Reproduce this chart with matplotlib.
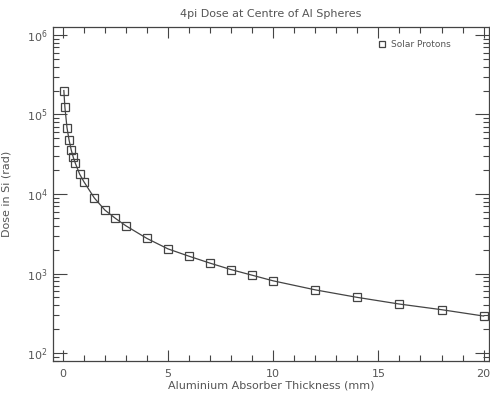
import numpy as np
import matplotlib
matplotlib.use("Agg")
import matplotlib.pyplot as plt
from matplotlib.ticker import LogLocator, MultipleLocator, FixedLocator

# data
thickness_mm = [0.05, 0.1, 0.2, 0.3, 0.4, 0.5, 0.6, 0.8, 1.0, 1.5, 2.0, 2.5, 3.0,
                4.0, 5.0, 6.0, 7.0, 8.0, 9.0, 10.0, 12.0, 14.0, 16.0, 18.0, 20.0]
dose_rad = [2.0e5, 1.23e5, 6.8e4, 4.73e4, 3.58e4, 2.88e4, 2.42e4, 1.78e4, 1.43e4,
            8.9e3, 6.28e3, 4.94e3, 3.98e3, 2.76e3, 2.04e3, 1.65e3, 1.35e3, 1.12e3,
            952, 809, 623, 501, 413, 351, 292]
x_ticks = [0, 5, 10, 15, 20]

txt = '#555555'
ink = '#444444'

fig = plt.figure(figsize=(4.9, 3.94), dpi=100)
ax = fig.add_axes([52.7 / 490, 1 - 361 / 394, (489.3 - 52.7) / 490, (361 - 27) / 394])

ax.plot(thickness_mm, dose_rad, color=ink, lw=0.9, marker='s', ms=6,
        mfc='none', mec=ink, mew=0.9, label='Solar Protons')

ax.set_yscale('log')
ax.set_xlim(-0.48, 20.27)
ax.set_ylim(10**1.9, 10**6.1)

ax.xaxis.set_major_locator(FixedLocator(x_ticks))
ax.xaxis.set_minor_locator(MultipleLocator(1))
ax.yaxis.set_major_locator(LogLocator(base=10, numticks=10))
ax.yaxis.set_minor_locator(LogLocator(base=10, subs=np.arange(2, 10), numticks=10))

ax.tick_params(which='both', direction='in', top=True, right=True,
               colors=ink, labelcolor=txt, labelsize=8, width=0.8)
ax.tick_params(axis='x', which='major', length=8, pad=6)
ax.tick_params(axis='y', which='major', length=10)
ax.tick_params(which='minor', length=4)
for s in ax.spines.values():
    s.set_color(ink)
    s.set_linewidth(0.9)

ax.set_title('4pi Dose at Centre of Al Spheres', fontsize=8, color=txt, pad=7)
ax.set_xlabel('Aluminium Absorber Thickness (mm)', fontsize=8, color=txt, labelpad=1)
ax.set_ylabel('Dose in Si (rad)', fontsize=8, color=txt, labelpad=11)

leg = ax.legend(loc='upper right', bbox_to_anchor=(0.93, 0.985), frameon=False,
                fontsize=6.5, handlelength=0, handletextpad=1.0, labelcolor=txt)
for h in leg.legend_handles:
    h.set_linestyle('none')
    h.set_markersize(5)

fig.savefig('out.png', dpi=100)
